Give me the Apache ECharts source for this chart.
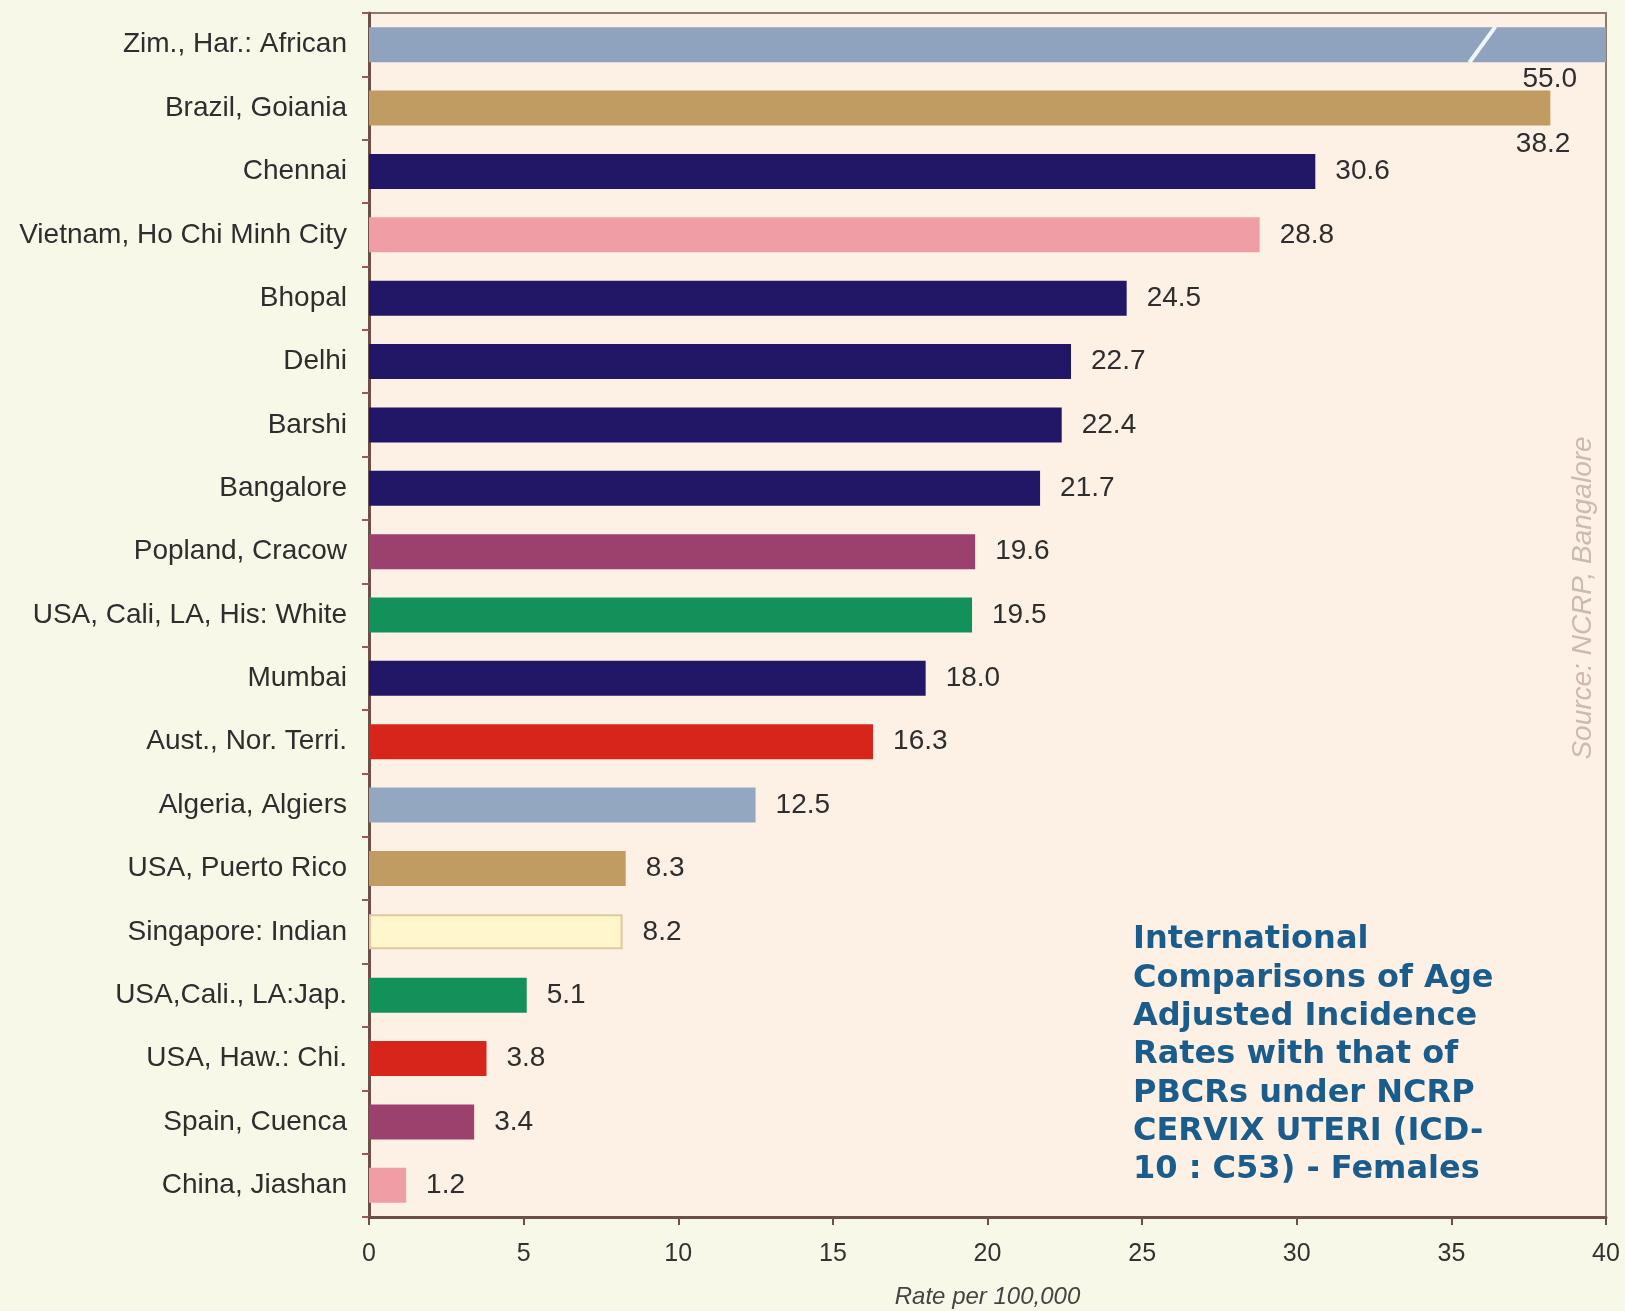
<!DOCTYPE html>
<html><head><meta charset="utf-8">
<script src="https://cdn.jsdelivr.net/npm/echarts@6/dist/echarts.min.js"></script>
<style>html,body{margin:0;padding:0;background:#f8f8e8;} #c{width:1625px;height:1311px;}</style>
</head><body><div id="c"></div>
<script>
const categories = [
  'Zim., Har.: African', 'Brazil, Goiania', 'Chennai', 'Vietnam, Ho Chi Minh City',
  'Bhopal', 'Delhi', 'Barshi', 'Bangalore', 'Popland, Cracow', 'USA, Cali, LA, His: White',
  'Mumbai', 'Aust., Nor. Terri.', 'Algeria, Algiers', 'USA, Puerto Rico', 'Singapore: Indian',
  'USA,Cali., LA:Jap.', 'USA, Haw.: Chi.', 'Spain, Cuenca', 'China, Jiashan'
];
const values = [55.0, 38.2, 30.6, 28.8, 24.5, 22.7, 22.4, 21.7, 19.6, 19.5, 18.0, 16.3, 12.5, 8.3, 8.2, 5.1, 3.8, 3.4, 1.2];
const barColors = [
  '#8fa3bf', '#c09c62', '#221667', '#ef9ea6', '#221667', '#221667', '#221667', '#221667',
  '#9c416e', '#12915a', '#221667', '#d8251c', '#93a8c0', '#c09c62', '#fff6cc', '#12915a',
  '#d8251c', '#9c416e', '#ef9ea6'
];
const xTicks = [0, 5, 10, 15, 20, 25, 30, 35, 40];
const axisBreakAt = 36;
const titleLines = ['International', 'Comparisons of Age', 'Adjusted Incidence', 'Rates with that of', 'PBCRs under NCRP', 'CERVIX UTERI (ICD-', '10 : C53) - Females'];
const sourceText = 'Source: NCRP, Bangalore';

const chart = echarts.init(document.getElementById('c'));
const data = values.map((v, i) => {
  const item = { value: v, itemStyle: { color: barColors[i] } };
  if (i === 14) item.itemStyle.borderColor = '#e0c9a0', item.itemStyle.borderWidth = 2;
  if (i === 0) item.label = { position: ['100%', '100%'], align: 'right', verticalAlign: 'top', offset: [-29, 3] };
  if (i === 1) item.label = { position: ['100%', '100%'], align: 'right', verticalAlign: 'top', offset: [20, 5] };
  return item;
});
chart.setOption({
  backgroundColor: '#f8f8e8',
  animation: false,
  grid: { left: 369, right: 19, top: 13, bottom: 94, outerBoundsMode: 'none', containLabel: false,
    show: true, backgroundColor: '#fdf0e4', borderColor: '#8c7a70', borderWidth: 2 },
  xAxis: {
    type: 'value', min: xTicks[0], max: xTicks[xTicks.length - 1], interval: 5,
    splitLine: { show: false },
    axisLine: { show: true, lineStyle: { color: '#6b5048', width: 3 } },
    axisTick: { show: true, length: 8, lineStyle: { color: '#6b5048', width: 2 } },
    axisLabel: { margin: 25, fontSize: 25, color: '#333', fontFamily: 'Liberation Sans' },
    name: 'Rate per 100,000', nameLocation: 'middle', nameGap: 68,
    nameTextStyle: { fontSize: 24, fontStyle: 'italic', color: '#444', fontFamily: 'Liberation Sans' }
  },
  yAxis: {
    type: 'category', data: categories, inverse: true,
    axisLine: { show: true, lineStyle: { color: '#6b5048', width: 3 } },
    axisTick: { show: true, length: 7, lineStyle: { color: '#9a5a50', width: 2 } },
    axisLabel: { margin: 22, fontSize: 28, color: '#2e2e2e', fontFamily: 'Liberation Sans' }
  },
  series: [{
    type: 'bar', data: data, barWidth: 35,
    label: { show: true, position: 'right', distance: 20, fontSize: 28, color: '#2e2e2e', fontFamily: 'Liberation Sans',
      formatter: p => p.value.toFixed(1) },
    markPoint: {
      silent: true,
      data: [{ coord: [axisBreakAt, categories[0]], symbol: 'rect', symbolSize: [4, 44], symbolRotate: -36,
        itemStyle: { color: '#eef8fa' }, label: { show: false } }]
    }
  }],
  graphic: [
    { type: 'text', x: 1583, y: 598, rotation: Math.PI / 2,
      style: { text: sourceText, align: 'center', verticalAlign: 'middle', font: 'italic 28px "Liberation Sans"', fill: '#cbbab2' } },
    { type: 'text', x: 1133, y: 921,
      style: { text: titleLines.join('\n'), lineHeight: 38.3, font: 'bold 32px "DejaVu Sans"', fill: '#1a5c8c' } }
  ]
});
</script></body></html>
